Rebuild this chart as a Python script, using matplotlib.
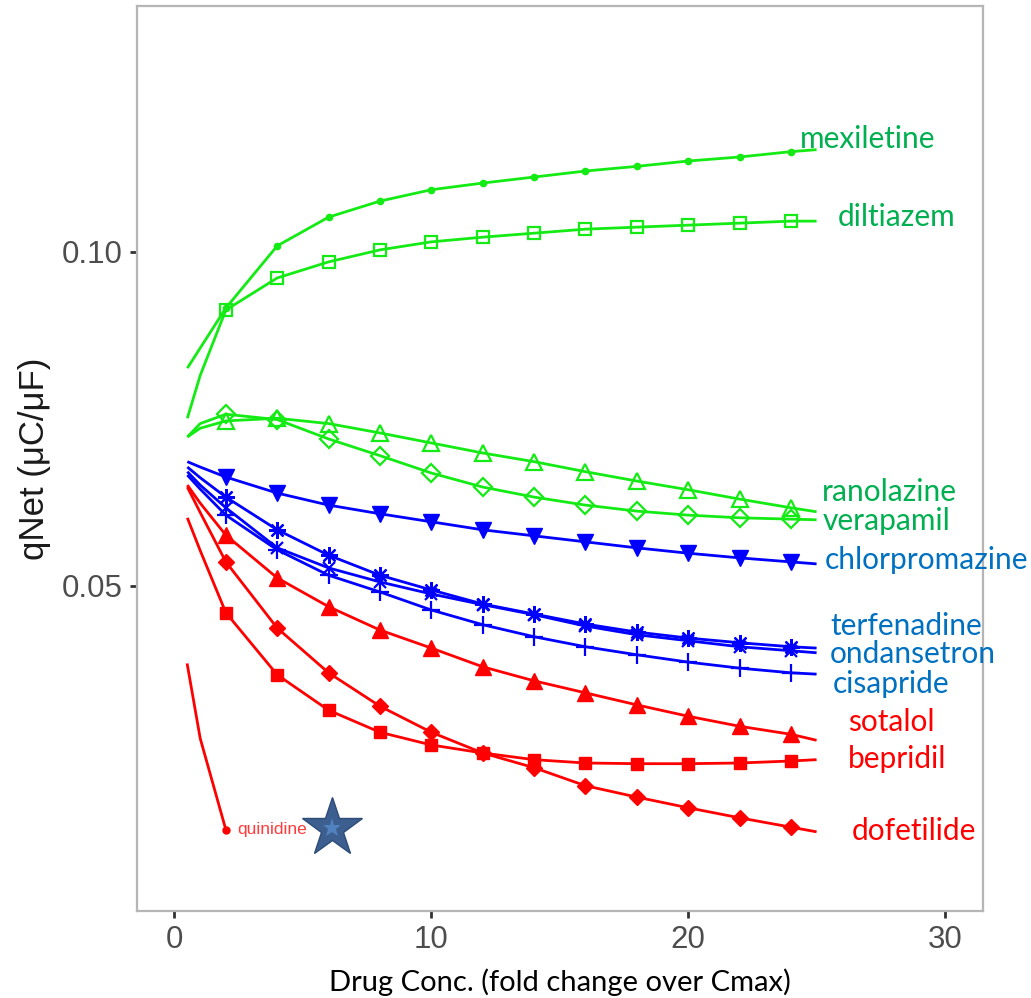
import matplotlib
matplotlib.use("Agg")
import matplotlib.pyplot as plt
import numpy as np

# ---------------- data ----------------
conc = [0.5, 1, 2, 4, 6, 8, 10, 12, 14, 16, 18, 20, 22, 24, 25]
marker_conc = [2, 4, 6, 8, 10, 12, 14, 16, 18, 20, 22, 24]

mexiletine = [0.0826, 0.0856, 0.0916, 0.1009, 0.1052, 0.1076, 0.1093, 0.1103,
              0.1112, 0.1121, 0.1128, 0.1136, 0.1142, 0.1150, 0.1153]
diltiazem = [0.0751, 0.0815, 0.0913, 0.0961, 0.0985, 0.1003, 0.1015, 0.1022,
             0.1028, 0.1034, 0.1037, 0.1040, 0.1043, 0.1046, 0.1046]
ranolazine = [0.0723, 0.0736, 0.0747, 0.0751, 0.0743, 0.0729, 0.0714, 0.0699,
              0.0686, 0.0671, 0.0657, 0.0644, 0.0630, 0.0617, 0.0611]
verapamil = [0.0723, 0.0743, 0.0757, 0.0749, 0.0720, 0.0695, 0.0669, 0.0648,
             0.0633, 0.0621, 0.0612, 0.0606, 0.0602, 0.0600, 0.0599]
chlorpromazine = [0.0686, 0.0678, 0.0663, 0.0639, 0.0621, 0.0608, 0.0596, 0.0584,
                  0.0575, 0.0566, 0.0557, 0.0549, 0.0542, 0.0536, 0.0533]
terfenadine = [0.0678, 0.0662, 0.0633, 0.0584, 0.0546, 0.0516, 0.0494, 0.0473,
               0.0458, 0.0443, 0.0431, 0.0422, 0.0415, 0.0409, 0.0407]
ondansetron = [0.0671, 0.0651, 0.0617, 0.0557, 0.0527, 0.0506, 0.0488, 0.0472,
               0.0457, 0.0440, 0.0427, 0.0418, 0.0409, 0.0403, 0.0400]
cisapride = [0.0666, 0.0645, 0.0606, 0.0554, 0.0516, 0.0491, 0.0464, 0.0442,
             0.0424, 0.0409, 0.0397, 0.0386, 0.0377, 0.0370, 0.0368]
sotalol = [0.0651, 0.0624, 0.0576, 0.0512, 0.0469, 0.0434, 0.0407, 0.0379,
           0.0358, 0.0340, 0.0322, 0.0305, 0.0290, 0.0278, 0.0269]
bepridil = [0.0602, 0.0553, 0.0460, 0.0367, 0.0314, 0.0281, 0.0262, 0.0250,
            0.0240, 0.0235, 0.0234, 0.0234, 0.0235, 0.0238, 0.0240]
dofetilide = [0.0648, 0.0610, 0.0536, 0.0437, 0.0370, 0.0320, 0.0281, 0.0250,
              0.0228, 0.0201, 0.0184, 0.0168, 0.0153, 0.0139, 0.0132]

quinidine_conc = [0.5, 1, 2]
quinidine = [0.0382, 0.0272, 0.0135]

star_conc = [6.12]
star_qnet = [0.0137]

x_ticks = [0, 10, 20, 30]
y_ticks = [0.05, 0.10]
y_ticklabels = ["0.05", "0.10"]

# ---------------- styling ----------------
GREEN = "#14EB14"
BLUE = "#0000FF"
RED = "#FF0000"
LBL_GREEN = "#00B050"
LBL_BLUE = "#0070C0"
LBL_RED = "#FF0000"

asterisk = (8, 2, 0)

series = [
    # name, values, line colour, marker, filled, msize, label colour, label x, label y
    ("mexiletine", mexiletine, GREEN, "o", True, 4.5, LBL_GREEN, 24.36, 0.1169),
    ("diltiazem", diltiazem, GREEN, "s", False, 9, LBL_GREEN, 25.84, 0.1052),
    ("ranolazine", ranolazine, GREEN, "^", False, 11, LBL_GREEN, 25.21, 0.0641),
    ("verapamil", verapamil, GREEN, "D", False, 9, LBL_GREEN, 25.25, 0.0597),
    ("chlorpromazine", chlorpromazine, BLUE, "v", True, 11, LBL_BLUE, 25.33, 0.0539),
    ("terfenadine", terfenadine, BLUE, asterisk, False, 12, LBL_BLUE, 25.52, 0.0440),
    ("ondansetron", ondansetron, BLUE, "x", False, 9, LBL_BLUE, 25.52, 0.0398),
    ("cisapride", cisapride, BLUE, "+", False, 13, LBL_BLUE, 25.64, 0.0353),
    ("sotalol", sotalol, RED, "^", True, 11, LBL_RED, 26.23, 0.0296),
    ("bepridil", bepridil, RED, "s", True, 8.5, LBL_RED, 26.23, 0.0241),
    ("dofetilide", dofetilide, RED, "D", True, 8, LBL_RED, 26.38, 0.0133),
]

fig = plt.figure(figsize=(10.31, 9.98), dpi=100)
ax = fig.add_axes([137 / 1031, 1 - 911 / 998, (983 - 137) / 1031, (911 - 6) / 998])

for name, vals, col, mk, filled, ms, lcol, lx, ly in series:
    ax.plot(conc, vals, color=col, lw=2.0, solid_capstyle="butt",
            solid_joinstyle="round", zorder=3)
    mvals = [v for c, v in zip(conc, vals) if c in marker_conc]
    ax.plot(marker_conc, mvals, linestyle="none", marker=mk, markersize=ms,
            markerfacecolor=(col if filled else "none"), markeredgecolor=col,
            markeredgewidth=1.6 if not filled else 1.0, zorder=4)
    ax.text(lx, ly, name, color=lcol, fontsize=21.5, family="Lato",
            ha="left", va="center", clip_on=False, zorder=5)

# quinidine
ax.plot(quinidine_conc, quinidine, color=RED, lw=2.0, zorder=3)
ax.plot(quinidine_conc[-1:], quinidine[-1:], "o", color=RED, markersize=5, zorder=4)
ax.text(2.45, quinidine[-1], "quinidine", color="#FF3B3B", fontsize=12.5,
        family="Liberation Sans", ha="left", va="center", zorder=5)

# star
ax.plot(star_conc, star_qnet, marker="*", markersize=45, color="#3C5F8F",
        markeredgecolor="#2E4C78", markeredgewidth=1.0, linestyle="none", zorder=6)
ax.plot(star_conc, star_qnet, marker="*", markersize=14, color="#4F82BE",
        markeredgewidth=0, linestyle="none", zorder=7)

ax.set_xlim(-1.46, 31.48)
ax.set_ylim(0.00135, 0.1368)
ax.set_xticks(x_ticks)
ax.set_xticklabels([str(t) for t in x_ticks])
ax.set_yticks(y_ticks)
ax.set_yticklabels(y_ticklabels)

for sp in ax.spines.values():
    sp.set_color("#B5B5B5")
    sp.set_linewidth(1.6)

ax.tick_params(axis="both", direction="out", length=5, width=2, color="#333333",
               labelsize=22.5, labelcolor="#4D4D4D", pad=5)
for lab in ax.get_xticklabels() + ax.get_yticklabels():
    lab.set_family("Liberation Sans")

ax.set_ylabel("qNet (μC/μF)", fontsize=25, family="Liberation Sans",
              color="#1A1A1A", labelpad=8)
ax.set_xlabel("Drug Conc. (fold change over Cmax)", fontsize=21, family="Lato",
              color="black", labelpad=10)

fig.savefig("out.png", dpi=100, facecolor="white")
